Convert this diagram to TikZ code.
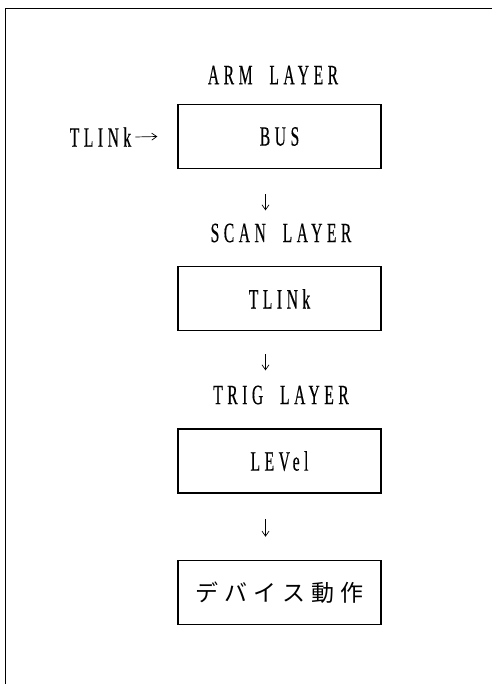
\documentclass[tikz,border=0pt]{standalone}
\usepackage{fontspec}
\newfontfamily\lblfont[FakeStretch=0.56, LetterSpace=16, WordSpace=2, FakeBold=0.3]{Liberation Serif}
\newfontfamily\jpfont[LetterSpace=26]{Noto Sans CJK JP}
\usetikzlibrary{arrows.meta, positioning}

\begin{document}
\begin{tikzpicture}[
  x=1pt, y=-1pt,
  node distance=97pt,
  layer/.style={rectangle, draw, line width=1.3pt, minimum width=203pt, minimum height=64pt, align=center, font=\fontsize{28}{30}\lblfont},
  tagtext/.style={font=\fontsize{28}{30}\lblfont, inner sep=0pt},
  flow/.style={-{Straight Barb[length=5pt,width=7pt]}, line width=0.7pt}
]
\useasboundingbox (0,0) rectangle (492,684);
\draw[line width=1pt] (5,684) -- (5,9) -- (492,9);

\node[layer] (bus) at (279.5,136.5) {BUS};
\node[layer, below=of bus] (scan) {TLINk};
\node[layer, below=of scan] (trig) {LEVel};
\node[layer, below=66pt of trig, font=\fontsize{23}{28}\jpfont] (dev) {デバイス動作};

\node[tagtext] (arm) at (273,75) {ARM LAYER};
\node[tagtext] (scanlbl) at (281,233) {SCAN LAYER};
\node[tagtext] (triglbl) at (281,395) {TRIG LAYER};
\node[tagtext] (src) at (100.5,137) {TLINk};

\draw[flow] ([xshift=4pt]src.east) -- ([xshift=-20pt]bus.west);
\draw[flow] ([xshift=-14pt,yshift=-25pt]bus.south) -- ([xshift=-14pt,yshift=13pt]bus.south |- scanlbl.north);
\draw[flow] ([xshift=-14pt,yshift=-23pt]scan.south) -- ([xshift=-14pt,yshift=15pt]scan.south |- triglbl.north);
\draw[flow] ([xshift=-14pt,yshift=-25pt]trig.south) -- ([xshift=-14pt,yshift=23pt]dev.north);
\end{tikzpicture}
\end{document}
